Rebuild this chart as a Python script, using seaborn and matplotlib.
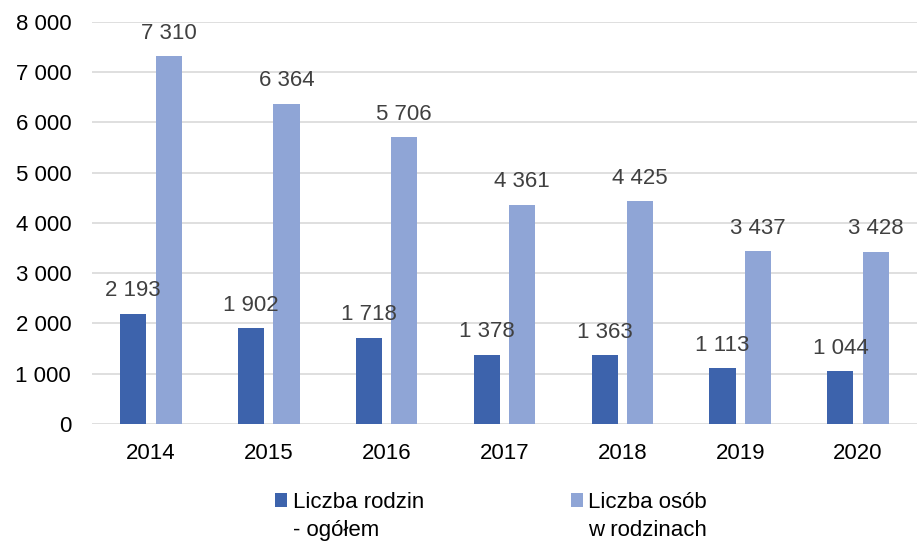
import pandas as pd
import seaborn as sns
import matplotlib.pyplot as plt
from matplotlib.ticker import FuncFormatter

# ===============================
# data
# ===============================
years = ["2014", "2015", "2016", "2017", "2018", "2019", "2020"]
families = [2193, 1902, 1718, 1378, 1363, 1113, 1044]
persons = [7310, 6364, 5706, 4361, 4425, 3437, 3428]
series_names = ["Liczba rodzin", "Liczba osób"]
series_second_line = ["- ogółem", "w rodzinach"]

df = pd.DataFrame({
    "Rok": years * 2,
    "Wartość": families + persons,
    "Seria": [series_names[0]] * len(years) + [series_names[1]] * len(years),
})

sns.set_style("white")
plt.rcParams["font.family"] = ["Liberation Sans", "DejaVu Sans"]

fig = plt.figure(figsize=(9.17, 5.41), dpi=100)
ax = fig.add_axes([0.1003, 0.2163, 0.8997, 0.7436])

sns.barplot(data=df, x="Rok", y="Wartość", hue="Seria", ax=ax,
            palette=["#3D63AC", "#8FA5D6"], width=0.6, gap=0.26,
            saturation=1, linewidth=0, legend=True)

fmt = lambda v: f"{int(v):,}".replace(",", " ")

for cont in ax.containers:
    ax.bar_label(cont, labels=[fmt(v) for v in cont.datavalues],
                 padding=9, fontsize=16, color="#404040")

ax.set_ylim(0, 8000)
ax.set_yticks(range(0, 8001, 1000))
ax.yaxis.set_major_formatter(FuncFormatter(lambda v, p: fmt(v)))
ax.grid(axis="y", color="#D9D9D9", linewidth=1.2)
ax.set_axisbelow(True)
for s in ax.spines.values():
    s.set_visible(False)
ax.tick_params(axis="both", length=0, labelsize=16, colors="#000000")
ax.tick_params(axis="y", pad=15)
ax.tick_params(axis="x", pad=14)
ax.set_xlabel("")
ax.set_ylabel("")

# legend: square marker next to first line, second line below
handles, labels = ax.get_legend_handles_labels()
ax.get_legend().remove()
leg = fig.legend(handles, labels, loc="upper left", bbox_to_anchor=(275 / 917, 1 - 492 / 541),
                 ncol=2, frameon=False, fontsize=16, handlelength=0.55, handleheight=0.55,
                 handletextpad=0.25, columnspacing=6.6, borderpad=0, borderaxespad=0,
                 labelcolor="#000000")

fig.canvas.draw()
W, H = fig.bbox.width, fig.bbox.height
for t, extra in zip(leg.get_texts(), series_second_line):
    bb = t.get_window_extent()
    fig.text(bb.x0 / W, (bb.y1 - 28) / H, extra, fontsize=16, ha="left", va="top",
             color="#000000")

plt.savefig("out.png", dpi=100)
